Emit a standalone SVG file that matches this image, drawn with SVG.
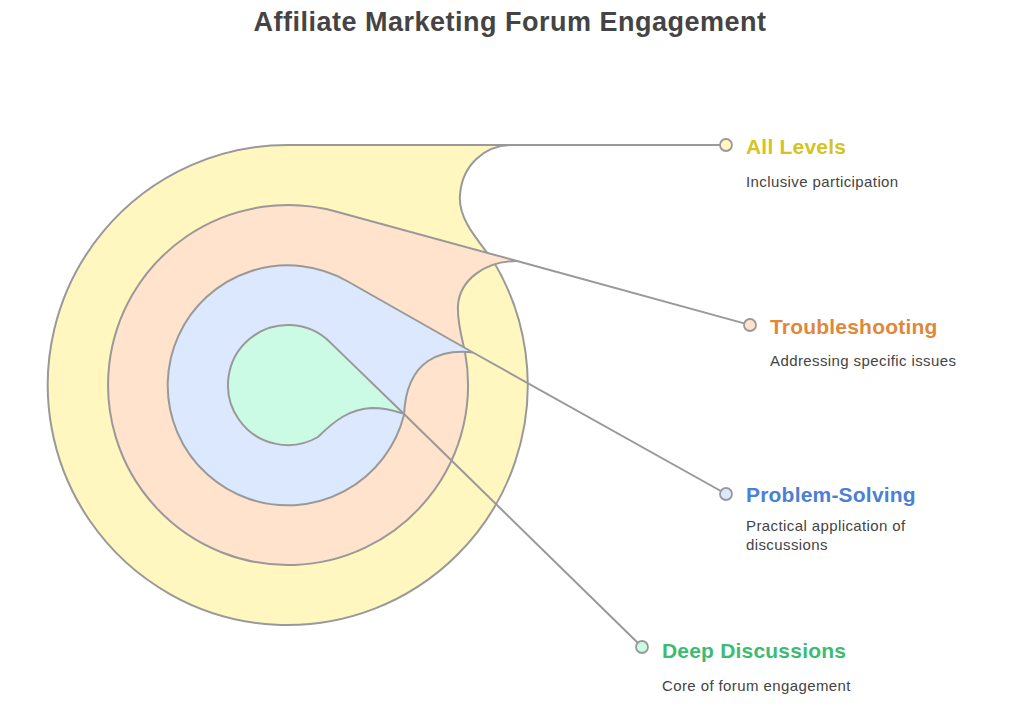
<svg xmlns="http://www.w3.org/2000/svg" width="1020" height="710" viewBox="0 0 1020 710">
<style>
.shape{stroke:#999;stroke-width:2;stroke-linejoin:round}
.conn{stroke:#999;stroke-width:2;fill:none}
.dot{stroke:#999;stroke-width:1.8}
.title{font-family:"Liberation Sans",Arial,sans-serif;font-weight:bold;font-size:27px;letter-spacing:0.5px;fill:#444}
.lbl{font-family:"Liberation Sans",Arial,sans-serif;font-weight:bold;font-size:21px;letter-spacing:0.2px}
.desc{font-family:"Liberation Sans",Arial,sans-serif;font-size:15px;letter-spacing:0.4px;fill:#444}
</style>
<rect width="1020" height="710" fill="#fff"/>
<text class="title" x="510" y="31" text-anchor="middle">Affiliate Marketing Forum Engagement</text>
<g id="all-levels">
<path class="shape" fill="#FFF7BF" d="M512,145 L288,145 A240,240 0 1 0 492,259 C476,238 458,218 460,195 C462,165 485,145 512,145 Z"/>
<circle class="dot" cx="726" cy="145" r="6" fill="#FFF7BF"/>
<text class="lbl" x="746" y="154" fill="#D6C321">All Levels</text>
<text class="desc" x="746" y="187">Inclusive participation</text>
</g>
<g id="troubleshooting">
<path class="shape" fill="#FFE3CC" d="M517,261 L335.8,211.5 A180,180 0 1 0 465,352 C462,338 457,322 458,305 C460,280 485,261 517,261 Z"/>
<circle class="dot" cx="750" cy="325" r="6" fill="#FFE3CC"/>
<text class="lbl" x="770" y="334" fill="#E0883A">Troubleshooting</text>
<text class="desc" x="770" y="366">Addressing specific issues</text>
</g>
<g id="problem-solving">
<path class="shape" fill="#DCE8FD" d="M473,352.5 L347,281 A120,120 0 1 0 404,415 C405,392 412,372 428,361 C442,352 460,351 473,352.5 Z"/>
<circle class="dot" cx="726" cy="494" r="6" fill="#DCE8FD"/>
<text class="lbl" x="746" y="502" fill="#4A80D6">Problem-Solving</text>
<text class="desc" x="746" y="531">Practical application of</text>
<text class="desc" x="746" y="550">discussions</text>
</g>
<g id="deep-discussions">
<path class="shape" fill="#CCFBE5" d="M404,414 L330.4,342.6 A60,60 0 1 0 318,437 C335,420 350,409 372,408 C388,408 398,412 404,414 Z"/>
<circle class="dot" cx="642" cy="647" r="6" fill="#CCFBE5"/>
<text class="lbl" x="662" y="658" fill="#3DBB72">Deep Discussions</text>
<text class="desc" x="662" y="691">Core of forum engagement</text>
</g>
<g id="connectors">
<line class="conn" x1="512" y1="145" x2="720" y2="145"/>
<line class="conn" x1="517" y1="261" x2="744.2" y2="323.4"/>
<line class="conn" x1="473" y1="352.5" x2="720.8" y2="491"/>
<line class="conn" x1="404" y1="414" x2="637.7" y2="642.8"/>
</g>
</svg>
